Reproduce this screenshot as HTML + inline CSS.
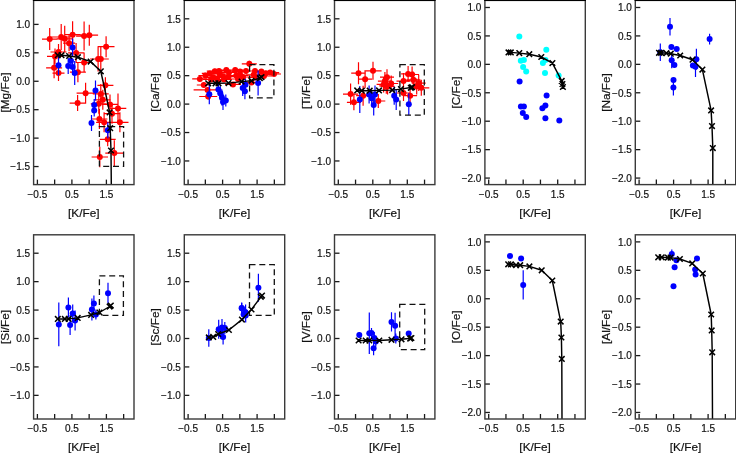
<!DOCTYPE html>
<html><head><meta charset="utf-8"><style>
html,body{margin:0;padding:0;background:#fff;}
svg{display:block;will-change:transform;}
text{font-family:"Liberation Sans",sans-serif;fill:#111;stroke:#111;stroke-width:0.2px;}
.tl{font-size:10.0px;}
.al{font-size:11.8px;}
.ax{stroke:#1a1a1a;stroke-width:1.3;}
.box{fill:none;stroke:#3a3a3a;stroke-width:1.4;}
</style></head><body>
<svg width="736" height="454" viewBox="0 0 736 454">
<g>
<path d="M42.0 39.1H57.4M49.7 28.1V50.1M51.5 37.0H70.9M61.2 24.0V50.0M56.7 38.8H72.7M64.7 25.8V51.8M64.6 34.7H80.6M72.6 21.3V48.1M76.1 36.1H92.1M84.1 21.6V50.6M80.5 35.2H98.1M89.3 24.7V45.7M63.1 43.2H75.1M69.1 35.2V51.2M97.7 46.7H114.5M106.1 36.2V57.2M47.0 56.4H63.0M55.0 48.4V64.4M50.5 52.0H66.5M58.5 44.0V60.0M46.1 67.8H62.1M54.1 57.3V78.3M52.5 73.1H64.5M58.5 65.1V81.1M68.1 52.9H84.1M76.1 42.9V62.9M76.1 62.5H92.1M84.1 52.5V72.5M69.9 72.2H85.9M77.9 62.2V82.2M90.1 59.0H106.1M98.1 46.5V71.5M92.8 59.0H108.8M100.8 46.5V71.5M76.6 93.2H94.6M85.6 82.7V103.7M69.6 103.1H85.6M77.6 95.1V111.1M97.4 85.3H113.4M105.4 77.3V93.3M92.8 93.9H108.8M100.8 83.9V103.9M94.8 99.8H110.8M102.8 89.8V109.8M90.8 103.8H106.8M98.8 93.8V113.8M102.0 104.4H118.0M110.0 94.4V114.4M109.7 108.4H126.3M118.0 93.4V123.4M91.4 119.0H107.4M99.4 109.0V129.0M96.1 122.3H112.1M104.1 112.3V132.3M111.3 122.3H128.5M119.9 112.3V132.3M104.0 113.7H120.0M112.0 103.7V123.7M99.7 139.3H115.7M107.7 132.3V146.3M105.3 153.1H123.3M114.3 140.3V165.9M91.6 157.0H108.0M99.8 146.7V167.3" stroke="#ff0000" stroke-width="1.2" fill="none"/>
<circle cx="49.7" cy="39.1" r="3.0" fill="#ff0000"/>
<circle cx="61.2" cy="37.0" r="3.0" fill="#ff0000"/>
<circle cx="64.7" cy="38.8" r="3.0" fill="#ff0000"/>
<circle cx="72.6" cy="34.7" r="3.0" fill="#ff0000"/>
<circle cx="84.1" cy="36.1" r="3.0" fill="#ff0000"/>
<circle cx="89.3" cy="35.2" r="3.0" fill="#ff0000"/>
<circle cx="69.1" cy="43.2" r="3.0" fill="#ff0000"/>
<circle cx="106.1" cy="46.7" r="3.0" fill="#ff0000"/>
<circle cx="55.0" cy="56.4" r="3.0" fill="#ff0000"/>
<circle cx="58.5" cy="52.0" r="3.0" fill="#ff0000"/>
<circle cx="54.1" cy="67.8" r="3.0" fill="#ff0000"/>
<circle cx="58.5" cy="73.1" r="3.0" fill="#ff0000"/>
<circle cx="76.1" cy="52.9" r="3.0" fill="#ff0000"/>
<circle cx="84.1" cy="62.5" r="3.0" fill="#ff0000"/>
<circle cx="77.9" cy="72.2" r="3.0" fill="#ff0000"/>
<circle cx="98.1" cy="59.0" r="3.0" fill="#ff0000"/>
<circle cx="100.8" cy="59.0" r="3.0" fill="#ff0000"/>
<circle cx="85.6" cy="93.2" r="3.0" fill="#ff0000"/>
<circle cx="77.6" cy="103.1" r="3.0" fill="#ff0000"/>
<circle cx="105.4" cy="85.3" r="3.0" fill="#ff0000"/>
<circle cx="100.8" cy="93.9" r="3.0" fill="#ff0000"/>
<circle cx="102.8" cy="99.8" r="3.0" fill="#ff0000"/>
<circle cx="98.8" cy="103.8" r="3.0" fill="#ff0000"/>
<circle cx="110.0" cy="104.4" r="3.0" fill="#ff0000"/>
<circle cx="118.0" cy="108.4" r="3.0" fill="#ff0000"/>
<circle cx="99.4" cy="119.0" r="3.0" fill="#ff0000"/>
<circle cx="104.1" cy="122.3" r="3.0" fill="#ff0000"/>
<circle cx="119.9" cy="122.3" r="3.0" fill="#ff0000"/>
<circle cx="112.0" cy="113.7" r="3.0" fill="#ff0000"/>
<circle cx="107.7" cy="139.3" r="3.0" fill="#ff0000"/>
<circle cx="114.3" cy="153.1" r="3.0" fill="#ff0000"/>
<circle cx="99.8" cy="157.0" r="3.0" fill="#ff0000"/>
<path d="M72.6 38.6V56.6M58.5 55.2V75.2M68.2 58.1V74.1M70.9 52.8V68.8M72.6 59.0V75.0M74.7 61.1V85.1M95.5 80.6V100.6M94.2 99.1V111.1M94.2 104.4V116.4M91.5 115.0V131.0M107.8 122.3V138.3" stroke="#0000ff" stroke-width="1.2" fill="none"/>
<circle cx="72.6" cy="47.6" r="3.0" fill="#0000ff"/>
<circle cx="58.5" cy="65.2" r="3.0" fill="#0000ff"/>
<circle cx="68.2" cy="66.1" r="3.0" fill="#0000ff"/>
<circle cx="70.9" cy="60.8" r="3.0" fill="#0000ff"/>
<circle cx="72.6" cy="67.0" r="3.0" fill="#0000ff"/>
<circle cx="74.7" cy="73.1" r="3.0" fill="#0000ff"/>
<circle cx="95.5" cy="90.6" r="3.0" fill="#0000ff"/>
<circle cx="94.2" cy="105.1" r="3.0" fill="#0000ff"/>
<circle cx="94.2" cy="110.4" r="3.0" fill="#0000ff"/>
<circle cx="91.5" cy="123.0" r="3.0" fill="#0000ff"/>
<circle cx="107.8" cy="130.3" r="3.0" fill="#0000ff"/>
<rect x="99.4" y="126.6" width="24.2" height="39.8" fill="none" stroke="#111" stroke-width="1.3" stroke-dasharray="6 3.8"/>
<polyline points="57.8,55.2 61.5,55.2 69.1,56.0 77.9,57.2 90.6,61.6 100.8,71.3 104.5,88.0 109.6,112.4 110.2,128.2 111.0,150.5 111.3,184.5" fill="none" stroke="#000" stroke-width="1.45" stroke-linejoin="round"/>
<path d="M55.0 52.4L60.6 58.0M55.0 58.0L60.6 52.4M58.7 52.4L64.3 58.0M58.7 58.0L64.3 52.4M66.3 53.2L71.9 58.8M66.3 58.8L71.9 53.2M75.1 54.4L80.7 60.0M75.1 60.0L80.7 54.4M87.8 58.8L93.4 64.4M87.8 64.4L93.4 58.8M98.0 68.5L103.6 74.1M98.0 74.1L103.6 68.5M106.8 109.6L112.4 115.2M106.8 115.2L112.4 109.6M107.4 125.4L113.0 131.0M107.4 131.0L113.0 125.4M108.2 147.7L113.8 153.3M108.2 153.3L113.8 147.7" stroke="#000" stroke-width="1.5" fill="none"/>
</g>
<line x1="37.40" y1="184.60" x2="37.40" y2="179.60" class="ax"/>
<line x1="54.65" y1="184.60" x2="54.65" y2="179.60" class="ax"/>
<line x1="71.90" y1="184.60" x2="71.90" y2="179.60" class="ax"/>
<line x1="89.15" y1="184.60" x2="89.15" y2="179.60" class="ax"/>
<line x1="106.40" y1="184.60" x2="106.40" y2="179.60" class="ax"/>
<line x1="123.65" y1="184.60" x2="123.65" y2="179.60" class="ax"/>
<text x="37.40" y="198.10" class="tl" text-anchor="middle">−0.5</text>
<text x="71.90" y="198.10" class="tl" text-anchor="middle">0.5</text>
<text x="106.40" y="198.10" class="tl" text-anchor="middle">1.5</text>
<line x1="33.60" y1="24.40" x2="38.60" y2="24.40" class="ax"/>
<text x="30.10" y="28.20" class="tl" text-anchor="end">1.0</text>
<line x1="33.60" y1="52.83" x2="38.60" y2="52.83" class="ax"/>
<text x="30.10" y="56.63" class="tl" text-anchor="end">0.5</text>
<line x1="33.60" y1="81.26" x2="38.60" y2="81.26" class="ax"/>
<text x="30.10" y="85.06" class="tl" text-anchor="end">0.0</text>
<line x1="33.60" y1="109.69" x2="38.60" y2="109.69" class="ax"/>
<text x="30.10" y="113.49" class="tl" text-anchor="end">−0.5</text>
<line x1="33.60" y1="138.12" x2="38.60" y2="138.12" class="ax"/>
<text x="30.10" y="141.92" class="tl" text-anchor="end">−1.0</text>
<line x1="33.60" y1="166.55" x2="38.60" y2="166.55" class="ax"/>
<text x="30.10" y="170.35" class="tl" text-anchor="end">−1.5</text>
<text x="83.80" y="217.20" class="al" text-anchor="middle">[K/Fe]</text>
<text transform="translate(8.60,92.50) rotate(-90)" class="al" text-anchor="middle">[Mg/Fe]</text>
<rect x="33.60" y="0.40" width="100.40" height="184.20" class="box"/>
<line x1="32.90" y1="0.55" x2="134.70" y2="0.55" stroke="#000" stroke-width="1.1"/>
<g>
<path d="M192.2 78.9H207.6M199.9 76.4V81.4M196.8 85.0H210.8M203.8 82.5V87.5M198.4 75.6H212.4M205.4 73.1V78.1M201.8 73.4H217.8M209.8 70.9V75.9M206.8 71.2H222.8M214.8 68.7V73.7M205.1 77.3H221.1M213.1 74.8V79.8M211.7 74.0H227.7M219.7 71.5V76.5M209.5 80.0H225.5M217.5 77.5V82.5M218.3 70.1H234.3M226.3 67.6V72.6M215.0 76.2H231.0M223.0 73.7V78.7M220.5 76.7H236.5M228.5 74.2V79.2M227.2 70.1H243.2M235.2 67.6V72.6M225.0 84.4H241.0M233.0 81.9V86.9M228.3 75.6H244.3M236.3 73.1V78.1M193.6 89.9H221.6M207.6 86.9V92.9M199.2 96.5H217.2M208.2 93.5V99.5M232.5 75.4H248.5M240.5 72.9V77.9M238.0 71.0H254.0M246.0 68.5V73.5M241.8 63.8H256.8M249.3 60.8V66.8M243.5 82.5H259.5M251.5 80.0V85.0M245.7 74.8H261.7M253.7 72.3V77.3M253.4 71.5H269.4M261.4 69.0V74.0M257.8 73.2H273.8M265.8 70.7V75.7M261.2 72.6H279.2M270.2 70.1V75.1M203.0 79.5H219.0M211.0 77.0V82.0M216.0 79.5H232.0M224.0 77.0V82.0M230.0 79.0H246.0M238.0 76.5V81.5M235.0 77.0H251.0M243.0 74.5V79.5M248.0 77.5H264.0M256.0 75.0V80.0M256.0 76.0H272.0M264.0 73.5V78.5M267.0 74.0H281.0M274.0 71.5V76.5M221.0 72.5H237.0M229.0 70.0V75.0M211.0 71.0H227.0M219.0 68.5V73.5M247.0 71.0H263.0M255.0 68.5V73.5M232.0 71.5H248.0M240.0 69.0V74.0" stroke="#ff0000" stroke-width="1.2" fill="none"/>
<circle cx="199.9" cy="78.9" r="3.0" fill="#ff0000"/>
<circle cx="203.8" cy="85.0" r="3.0" fill="#ff0000"/>
<circle cx="205.4" cy="75.6" r="3.0" fill="#ff0000"/>
<circle cx="209.8" cy="73.4" r="3.0" fill="#ff0000"/>
<circle cx="214.8" cy="71.2" r="3.0" fill="#ff0000"/>
<circle cx="213.1" cy="77.3" r="3.0" fill="#ff0000"/>
<circle cx="219.7" cy="74.0" r="3.0" fill="#ff0000"/>
<circle cx="217.5" cy="80.0" r="3.0" fill="#ff0000"/>
<circle cx="226.3" cy="70.1" r="3.0" fill="#ff0000"/>
<circle cx="223.0" cy="76.2" r="3.0" fill="#ff0000"/>
<circle cx="228.5" cy="76.7" r="3.0" fill="#ff0000"/>
<circle cx="235.2" cy="70.1" r="3.0" fill="#ff0000"/>
<circle cx="233.0" cy="84.4" r="3.0" fill="#ff0000"/>
<circle cx="236.3" cy="75.6" r="3.0" fill="#ff0000"/>
<circle cx="207.6" cy="89.9" r="3.0" fill="#ff0000"/>
<circle cx="208.2" cy="96.5" r="3.0" fill="#ff0000"/>
<circle cx="240.5" cy="75.4" r="3.0" fill="#ff0000"/>
<circle cx="246.0" cy="71.0" r="3.0" fill="#ff0000"/>
<circle cx="249.3" cy="63.8" r="3.0" fill="#ff0000"/>
<circle cx="251.5" cy="82.5" r="3.0" fill="#ff0000"/>
<circle cx="253.7" cy="74.8" r="3.0" fill="#ff0000"/>
<circle cx="261.4" cy="71.5" r="3.0" fill="#ff0000"/>
<circle cx="265.8" cy="73.2" r="3.0" fill="#ff0000"/>
<circle cx="270.2" cy="72.6" r="3.0" fill="#ff0000"/>
<circle cx="211.0" cy="79.5" r="3.0" fill="#ff0000"/>
<circle cx="224.0" cy="79.5" r="3.0" fill="#ff0000"/>
<circle cx="238.0" cy="79.0" r="3.0" fill="#ff0000"/>
<circle cx="243.0" cy="77.0" r="3.0" fill="#ff0000"/>
<circle cx="256.0" cy="77.5" r="3.0" fill="#ff0000"/>
<circle cx="264.0" cy="76.0" r="3.0" fill="#ff0000"/>
<circle cx="274.0" cy="74.0" r="3.0" fill="#ff0000"/>
<circle cx="229.0" cy="72.5" r="3.0" fill="#ff0000"/>
<circle cx="219.0" cy="71.0" r="3.0" fill="#ff0000"/>
<circle cx="255.0" cy="71.0" r="3.0" fill="#ff0000"/>
<circle cx="240.0" cy="71.5" r="3.0" fill="#ff0000"/>
<path d="M209.3 84.3V104.3M218.4 83.4V95.4M220.3 86.2V100.2M221.9 89.6V105.6M225.8 94.4V106.4M223.0 94.0V110.0M242.7 80.0V96.0M245.5 78.7V90.7M244.9 83.3V99.3M258.1 70.6V95.6" stroke="#0000ff" stroke-width="1.2" fill="none"/>
<circle cx="209.3" cy="94.3" r="3.0" fill="#0000ff"/>
<circle cx="218.4" cy="89.4" r="3.0" fill="#0000ff"/>
<circle cx="220.3" cy="93.2" r="3.0" fill="#0000ff"/>
<circle cx="221.9" cy="97.6" r="3.0" fill="#0000ff"/>
<circle cx="225.8" cy="100.4" r="3.0" fill="#0000ff"/>
<circle cx="223.0" cy="102.0" r="3.0" fill="#0000ff"/>
<circle cx="242.7" cy="88.0" r="3.0" fill="#0000ff"/>
<circle cx="245.5" cy="84.7" r="3.0" fill="#0000ff"/>
<circle cx="244.9" cy="91.3" r="3.0" fill="#0000ff"/>
<circle cx="258.1" cy="83.1" r="3.0" fill="#0000ff"/>
<rect x="249.6" y="64.6" width="24.3" height="33.2" fill="none" stroke="#111" stroke-width="1.3" stroke-dasharray="6 3.8"/>
<polyline points="208.2,83.3 215.5,83.3 218.5,83.3 228.5,83.1 241.6,81.6 251.5,80.8 261.5,77.4" fill="none" stroke="#000" stroke-width="1.45" stroke-linejoin="round"/>
<path d="M205.4 80.5L211.0 86.1M205.4 86.1L211.0 80.5M212.7 80.5L218.3 86.1M212.7 86.1L218.3 80.5M215.7 80.5L221.3 86.1M215.7 86.1L221.3 80.5M225.7 80.3L231.3 85.9M225.7 85.9L231.3 80.3M238.8 78.8L244.4 84.4M238.8 84.4L244.4 78.8M248.7 78.0L254.3 83.6M248.7 83.6L254.3 78.0M257.0 75.4L262.6 81.0M257.0 81.0L262.6 75.4M258.7 74.4L264.3 80.0M258.7 80.0L264.3 74.4" stroke="#000" stroke-width="1.5" fill="none"/>
</g>
<line x1="188.10" y1="184.60" x2="188.10" y2="179.60" class="ax"/>
<line x1="205.35" y1="184.60" x2="205.35" y2="179.60" class="ax"/>
<line x1="222.60" y1="184.60" x2="222.60" y2="179.60" class="ax"/>
<line x1="239.85" y1="184.60" x2="239.85" y2="179.60" class="ax"/>
<line x1="257.10" y1="184.60" x2="257.10" y2="179.60" class="ax"/>
<line x1="274.35" y1="184.60" x2="274.35" y2="179.60" class="ax"/>
<text x="188.10" y="198.10" class="tl" text-anchor="middle">−0.5</text>
<text x="222.60" y="198.10" class="tl" text-anchor="middle">0.5</text>
<text x="257.10" y="198.10" class="tl" text-anchor="middle">1.5</text>
<line x1="184.30" y1="18.81" x2="189.30" y2="18.81" class="ax"/>
<text x="180.80" y="22.61" class="tl" text-anchor="end">1.5</text>
<line x1="184.30" y1="47.24" x2="189.30" y2="47.24" class="ax"/>
<text x="180.80" y="51.04" class="tl" text-anchor="end">1.0</text>
<line x1="184.30" y1="75.67" x2="189.30" y2="75.67" class="ax"/>
<text x="180.80" y="79.47" class="tl" text-anchor="end">0.5</text>
<line x1="184.30" y1="104.10" x2="189.30" y2="104.10" class="ax"/>
<text x="180.80" y="107.90" class="tl" text-anchor="end">0.0</text>
<line x1="184.30" y1="132.53" x2="189.30" y2="132.53" class="ax"/>
<text x="180.80" y="136.33" class="tl" text-anchor="end">−0.5</text>
<line x1="184.30" y1="160.96" x2="189.30" y2="160.96" class="ax"/>
<text x="180.80" y="164.76" class="tl" text-anchor="end">−1.0</text>
<text x="234.50" y="217.20" class="al" text-anchor="middle">[K/Fe]</text>
<text transform="translate(159.30,92.50) rotate(-90)" class="al" text-anchor="middle">[Ca/Fe]</text>
<rect x="184.30" y="0.40" width="100.40" height="184.20" class="box"/>
<line x1="183.60" y1="0.55" x2="285.40" y2="0.55" stroke="#000" stroke-width="1.1"/>
<g>
<path d="M351.2 73.2H365.8M358.5 62.2V84.2M364.4 70.8H381.6M373.0 61.8V79.8M358.1 79.2H372.1M365.1 70.2V88.2M343.0 94.1H358.2M350.6 83.5V104.7M346.9 102.3H360.9M353.9 94.3V110.3M356.1 95.7H370.1M363.1 85.7V105.7M371.3 101.0H385.3M378.3 94.0V108.0M377.9 81.1H391.9M384.9 72.1V90.1M376.6 84.4H390.6M383.6 76.4V92.4M379.3 85.8H393.3M386.3 77.8V93.8M380.0 77.2H394.0M387.0 69.2V85.2M380.6 86.4H394.6M387.6 78.4V94.4M401.1 73.9H415.1M408.1 65.9V81.9M405.1 74.5H419.1M412.1 66.5V82.5M396.5 81.1H410.5M403.5 73.1V89.1M406.4 79.8H420.4M413.4 71.8V87.8M411.7 83.1H425.7M418.7 75.1V91.1M413.3 87.8H429.3M421.3 79.8V95.8M409.7 86.4H423.7M416.7 78.4V94.4M403.1 95.7H417.1M410.1 87.7V103.7M396.5 93.0H410.5M403.5 85.0V101.0M384.2 83.5H398.2M391.2 75.5V91.5" stroke="#ff0000" stroke-width="1.2" fill="none"/>
<circle cx="358.5" cy="73.2" r="3.0" fill="#ff0000"/>
<circle cx="373.0" cy="70.8" r="3.0" fill="#ff0000"/>
<circle cx="365.1" cy="79.2" r="3.0" fill="#ff0000"/>
<circle cx="350.6" cy="94.1" r="3.0" fill="#ff0000"/>
<circle cx="353.9" cy="102.3" r="3.0" fill="#ff0000"/>
<circle cx="363.1" cy="95.7" r="3.0" fill="#ff0000"/>
<circle cx="378.3" cy="101.0" r="3.0" fill="#ff0000"/>
<circle cx="384.9" cy="81.1" r="3.0" fill="#ff0000"/>
<circle cx="383.6" cy="84.4" r="3.0" fill="#ff0000"/>
<circle cx="386.3" cy="85.8" r="3.0" fill="#ff0000"/>
<circle cx="387.0" cy="77.2" r="3.0" fill="#ff0000"/>
<circle cx="387.6" cy="86.4" r="3.0" fill="#ff0000"/>
<circle cx="408.1" cy="73.9" r="3.0" fill="#ff0000"/>
<circle cx="412.1" cy="74.5" r="3.0" fill="#ff0000"/>
<circle cx="403.5" cy="81.1" r="3.0" fill="#ff0000"/>
<circle cx="413.4" cy="79.8" r="3.0" fill="#ff0000"/>
<circle cx="418.7" cy="83.1" r="3.0" fill="#ff0000"/>
<circle cx="421.3" cy="87.8" r="3.0" fill="#ff0000"/>
<circle cx="416.7" cy="86.4" r="3.0" fill="#ff0000"/>
<circle cx="410.1" cy="95.7" r="3.0" fill="#ff0000"/>
<circle cx="403.5" cy="93.0" r="3.0" fill="#ff0000"/>
<circle cx="391.2" cy="83.5" r="3.0" fill="#ff0000"/>
<path d="M359.8 86.1V113.1M369.1 85.4V103.4M371.7 90.3V106.3M373.7 94.4V115.4M375.0 85.4V103.4M394.2 86.7V104.7M396.2 89.1V110.1M408.8 93.3V115.3" stroke="#0000ff" stroke-width="1.2" fill="none"/>
<circle cx="359.8" cy="99.6" r="3.0" fill="#0000ff"/>
<circle cx="369.1" cy="94.4" r="3.0" fill="#0000ff"/>
<circle cx="371.7" cy="98.3" r="3.0" fill="#0000ff"/>
<circle cx="373.7" cy="104.9" r="3.0" fill="#0000ff"/>
<circle cx="375.0" cy="94.4" r="3.0" fill="#0000ff"/>
<circle cx="394.2" cy="95.7" r="3.0" fill="#0000ff"/>
<circle cx="396.2" cy="99.6" r="3.0" fill="#0000ff"/>
<circle cx="408.8" cy="104.3" r="3.0" fill="#0000ff"/>
<rect x="399.9" y="64.6" width="24.4" height="50.5" fill="none" stroke="#111" stroke-width="1.3" stroke-dasharray="6 3.8"/>
<polyline points="357.2,90.4 361.8,90.7 369.7,90.7 379.0,90.4 392.2,90.1 400.9,89.1 412.1,87.2" fill="none" stroke="#000" stroke-width="1.45" stroke-linejoin="round"/>
<path d="M354.4 87.6L360.0 93.2M354.4 93.2L360.0 87.6M359.0 87.9L364.6 93.5M359.0 93.5L364.6 87.9M366.9 87.9L372.5 93.5M366.9 93.5L372.5 87.9M376.2 87.6L381.8 93.2M376.2 93.2L381.8 87.6M389.4 87.3L395.0 92.9M389.4 92.9L395.0 87.3M398.1 86.3L403.7 91.9M398.1 91.9L403.7 86.3M408.0 85.0L413.6 90.6M408.0 90.6L413.6 85.0M409.3 84.4L414.9 90.0M409.3 90.0L414.9 84.4" stroke="#000" stroke-width="1.5" fill="none"/>
</g>
<line x1="338.30" y1="184.60" x2="338.30" y2="179.60" class="ax"/>
<line x1="355.55" y1="184.60" x2="355.55" y2="179.60" class="ax"/>
<line x1="372.80" y1="184.60" x2="372.80" y2="179.60" class="ax"/>
<line x1="390.05" y1="184.60" x2="390.05" y2="179.60" class="ax"/>
<line x1="407.30" y1="184.60" x2="407.30" y2="179.60" class="ax"/>
<line x1="424.55" y1="184.60" x2="424.55" y2="179.60" class="ax"/>
<text x="338.30" y="198.10" class="tl" text-anchor="middle">−0.5</text>
<text x="372.80" y="198.10" class="tl" text-anchor="middle">0.5</text>
<text x="407.30" y="198.10" class="tl" text-anchor="middle">1.5</text>
<line x1="334.50" y1="18.81" x2="339.50" y2="18.81" class="ax"/>
<text x="331.00" y="22.61" class="tl" text-anchor="end">1.5</text>
<line x1="334.50" y1="47.24" x2="339.50" y2="47.24" class="ax"/>
<text x="331.00" y="51.04" class="tl" text-anchor="end">1.0</text>
<line x1="334.50" y1="75.67" x2="339.50" y2="75.67" class="ax"/>
<text x="331.00" y="79.47" class="tl" text-anchor="end">0.5</text>
<line x1="334.50" y1="104.10" x2="339.50" y2="104.10" class="ax"/>
<text x="331.00" y="107.90" class="tl" text-anchor="end">0.0</text>
<line x1="334.50" y1="132.53" x2="339.50" y2="132.53" class="ax"/>
<text x="331.00" y="136.33" class="tl" text-anchor="end">−0.5</text>
<line x1="334.50" y1="160.96" x2="339.50" y2="160.96" class="ax"/>
<text x="331.00" y="164.76" class="tl" text-anchor="end">−1.0</text>
<text x="384.70" y="217.20" class="al" text-anchor="middle">[K/Fe]</text>
<text transform="translate(309.50,92.50) rotate(-90)" class="al" text-anchor="middle">[Ti/Fe]</text>
<rect x="334.50" y="0.40" width="100.40" height="184.20" class="box"/>
<line x1="333.80" y1="0.55" x2="435.60" y2="0.55" stroke="#000" stroke-width="1.1"/>
<g>
<path d="M519.6 81.6V81.6M546.6 95.5V95.5M520.9 106.4V106.4M523.9 106.4V106.4M522.8 112.9V112.9M526.2 117.0V117.0M542.4 108.3V108.3M545.4 105.5V105.5M545.4 118.2V118.2M559.3 120.5V120.5" stroke="#0000ff" stroke-width="1.2" fill="none"/>
<circle cx="519.6" cy="81.6" r="3.0" fill="#0000ff"/>
<circle cx="546.6" cy="95.5" r="3.0" fill="#0000ff"/>
<circle cx="520.9" cy="106.4" r="3.0" fill="#0000ff"/>
<circle cx="523.9" cy="106.4" r="3.0" fill="#0000ff"/>
<circle cx="522.8" cy="112.9" r="3.0" fill="#0000ff"/>
<circle cx="526.2" cy="117.0" r="3.0" fill="#0000ff"/>
<circle cx="542.4" cy="108.3" r="3.0" fill="#0000ff"/>
<circle cx="545.4" cy="105.5" r="3.0" fill="#0000ff"/>
<circle cx="545.4" cy="118.2" r="3.0" fill="#0000ff"/>
<circle cx="559.3" cy="120.5" r="3.0" fill="#0000ff"/>
<circle cx="519.3" cy="36.5" r="3.0" fill="#00ffff"/>
<circle cx="546.3" cy="49.7" r="3.0" fill="#00ffff"/>
<circle cx="520.8" cy="60.8" r="3.0" fill="#00ffff"/>
<circle cx="523.9" cy="60.1" r="3.0" fill="#00ffff"/>
<circle cx="523.1" cy="67.0" r="3.0" fill="#00ffff"/>
<circle cx="526.2" cy="71.6" r="3.0" fill="#00ffff"/>
<circle cx="542.9" cy="63.1" r="3.0" fill="#00ffff"/>
<circle cx="545.5" cy="60.1" r="3.0" fill="#00ffff"/>
<circle cx="545.0" cy="72.9" r="3.0" fill="#00ffff"/>
<circle cx="558.6" cy="75.5" r="3.0" fill="#00ffff"/>
<polyline points="508.5,52.4 510.8,52.4 519.3,53.1 529.3,54.2 541.3,57.0 552.4,63.1 561.7,80.9 562.4,84.0 562.9,87.0" fill="none" stroke="#000" stroke-width="1.45" stroke-linejoin="round"/>
<path d="M505.7 49.6L511.3 55.2M505.7 55.2L511.3 49.6M508.0 49.6L513.6 55.2M508.0 55.2L513.6 49.6M516.5 50.3L522.1 55.9M516.5 55.9L522.1 50.3M526.5 51.4L532.1 57.0M526.5 57.0L532.1 51.4M538.5 54.2L544.1 59.8M538.5 59.8L544.1 54.2M549.6 60.3L555.2 65.9M549.6 65.9L555.2 60.3M558.9 78.1L564.5 83.7M558.9 83.7L564.5 78.1M559.6 81.2L565.2 86.8M559.6 86.8L565.2 81.2M560.1 84.2L565.7 89.8M560.1 89.8L565.7 84.2" stroke="#000" stroke-width="1.5" fill="none"/>
</g>
<line x1="488.70" y1="184.60" x2="488.70" y2="179.60" class="ax"/>
<line x1="505.95" y1="184.60" x2="505.95" y2="179.60" class="ax"/>
<line x1="523.20" y1="184.60" x2="523.20" y2="179.60" class="ax"/>
<line x1="540.45" y1="184.60" x2="540.45" y2="179.60" class="ax"/>
<line x1="557.70" y1="184.60" x2="557.70" y2="179.60" class="ax"/>
<line x1="574.95" y1="184.60" x2="574.95" y2="179.60" class="ax"/>
<text x="488.70" y="198.10" class="tl" text-anchor="middle">−0.5</text>
<text x="523.20" y="198.10" class="tl" text-anchor="middle">0.5</text>
<text x="557.70" y="198.10" class="tl" text-anchor="middle">1.5</text>
<line x1="484.90" y1="7.49" x2="489.90" y2="7.49" class="ax"/>
<text x="481.40" y="11.29" class="tl" text-anchor="end">1.0</text>
<line x1="484.90" y1="35.92" x2="489.90" y2="35.92" class="ax"/>
<text x="481.40" y="39.72" class="tl" text-anchor="end">0.5</text>
<line x1="484.90" y1="64.35" x2="489.90" y2="64.35" class="ax"/>
<text x="481.40" y="68.15" class="tl" text-anchor="end">0.0</text>
<line x1="484.90" y1="92.78" x2="489.90" y2="92.78" class="ax"/>
<text x="481.40" y="96.58" class="tl" text-anchor="end">−0.5</text>
<line x1="484.90" y1="121.21" x2="489.90" y2="121.21" class="ax"/>
<text x="481.40" y="125.01" class="tl" text-anchor="end">−1.0</text>
<line x1="484.90" y1="149.64" x2="489.90" y2="149.64" class="ax"/>
<text x="481.40" y="153.44" class="tl" text-anchor="end">−1.5</text>
<line x1="484.90" y1="178.07" x2="489.90" y2="178.07" class="ax"/>
<text x="481.40" y="181.87" class="tl" text-anchor="end">−2.0</text>
<text x="535.10" y="217.20" class="al" text-anchor="middle">[K/Fe]</text>
<text transform="translate(459.90,92.50) rotate(-90)" class="al" text-anchor="middle">[C/Fe]</text>
<rect x="484.90" y="0.40" width="100.40" height="184.20" class="box"/>
<line x1="484.20" y1="0.55" x2="586.00" y2="0.55" stroke="#000" stroke-width="1.1"/>
<g>
<path d="M670.0 17.9V35.5M709.6 33.8V44.4M671.4 47.0V47.0M676.7 49.1V49.1M660.3 43.5V61.1M671.7 52.2V68.2M674.4 65.0V65.0M696.4 48.8V69.8M692.9 65.5V65.5M695.5 56.4V77.0M673.5 80.1V80.1M673.4 79.5V95.5" stroke="#0000ff" stroke-width="1.2" fill="none"/>
<circle cx="670.0" cy="26.7" r="3.0" fill="#0000ff"/>
<circle cx="709.6" cy="39.1" r="3.0" fill="#0000ff"/>
<circle cx="671.4" cy="47.0" r="3.0" fill="#0000ff"/>
<circle cx="676.7" cy="49.1" r="3.0" fill="#0000ff"/>
<circle cx="660.3" cy="52.3" r="3.0" fill="#0000ff"/>
<circle cx="671.7" cy="60.2" r="3.0" fill="#0000ff"/>
<circle cx="674.4" cy="65.0" r="3.0" fill="#0000ff"/>
<circle cx="696.4" cy="59.3" r="3.0" fill="#0000ff"/>
<circle cx="692.9" cy="65.5" r="3.0" fill="#0000ff"/>
<circle cx="695.5" cy="66.7" r="3.0" fill="#0000ff"/>
<circle cx="673.5" cy="80.1" r="3.0" fill="#0000ff"/>
<circle cx="673.4" cy="87.5" r="3.0" fill="#0000ff"/>
<polyline points="659.0,52.8 661.1,52.8 666.4,53.2 670.8,53.7 680.2,55.5 692.5,59.7 702.4,69.6 711.1,110.4 712.0,126.1 712.8,148.1 712.8,184.5" fill="none" stroke="#000" stroke-width="1.45" stroke-linejoin="round"/>
<path d="M656.2 50.0L661.8 55.6M656.2 55.6L661.8 50.0M658.3 50.0L663.9 55.6M658.3 55.6L663.9 50.0M663.6 50.4L669.2 56.0M663.6 56.0L669.2 50.4M668.0 50.9L673.6 56.5M668.0 56.5L673.6 50.9M677.4 52.7L683.0 58.3M677.4 58.3L683.0 52.7M689.7 56.9L695.3 62.5M689.7 62.5L695.3 56.9M699.6 66.8L705.2 72.4M699.6 72.4L705.2 66.8M708.3 107.6L713.9 113.2M708.3 113.2L713.9 107.6M709.2 123.3L714.8 128.9M709.2 128.9L714.8 123.3M710.0 145.3L715.6 150.9M710.0 150.9L715.6 145.3" stroke="#000" stroke-width="1.5" fill="none"/>
</g>
<line x1="639.10" y1="184.60" x2="639.10" y2="179.60" class="ax"/>
<line x1="656.35" y1="184.60" x2="656.35" y2="179.60" class="ax"/>
<line x1="673.60" y1="184.60" x2="673.60" y2="179.60" class="ax"/>
<line x1="690.85" y1="184.60" x2="690.85" y2="179.60" class="ax"/>
<line x1="708.10" y1="184.60" x2="708.10" y2="179.60" class="ax"/>
<line x1="725.35" y1="184.60" x2="725.35" y2="179.60" class="ax"/>
<text x="639.10" y="198.10" class="tl" text-anchor="middle">−0.5</text>
<text x="673.60" y="198.10" class="tl" text-anchor="middle">0.5</text>
<text x="708.10" y="198.10" class="tl" text-anchor="middle">1.5</text>
<line x1="635.30" y1="7.49" x2="640.30" y2="7.49" class="ax"/>
<text x="631.80" y="11.29" class="tl" text-anchor="end">1.0</text>
<line x1="635.30" y1="35.92" x2="640.30" y2="35.92" class="ax"/>
<text x="631.80" y="39.72" class="tl" text-anchor="end">0.5</text>
<line x1="635.30" y1="64.35" x2="640.30" y2="64.35" class="ax"/>
<text x="631.80" y="68.15" class="tl" text-anchor="end">0.0</text>
<line x1="635.30" y1="92.78" x2="640.30" y2="92.78" class="ax"/>
<text x="631.80" y="96.58" class="tl" text-anchor="end">−0.5</text>
<line x1="635.30" y1="121.21" x2="640.30" y2="121.21" class="ax"/>
<text x="631.80" y="125.01" class="tl" text-anchor="end">−1.0</text>
<line x1="635.30" y1="149.64" x2="640.30" y2="149.64" class="ax"/>
<text x="631.80" y="153.44" class="tl" text-anchor="end">−1.5</text>
<line x1="635.30" y1="178.07" x2="640.30" y2="178.07" class="ax"/>
<text x="631.80" y="181.87" class="tl" text-anchor="end">−2.0</text>
<text x="685.50" y="217.20" class="al" text-anchor="middle">[K/Fe]</text>
<text transform="translate(610.30,92.50) rotate(-90)" class="al" text-anchor="middle">[Na/Fe]</text>
<rect x="635.30" y="0.40" width="100.40" height="184.20" class="box"/>
<line x1="634.60" y1="0.55" x2="736.40" y2="0.55" stroke="#000" stroke-width="1.1"/>
<g>
<path d="M58.8 302.6V346.2M68.4 297.6V317.6M72.7 304.5V322.5M70.1 315.0V335.0M75.1 310.5V330.5M93.9 295.6V311.6M91.9 298.6V320.6M95.9 309.5V319.5M108.0 282.8V303.8" stroke="#0000ff" stroke-width="1.2" fill="none"/>
<circle cx="58.8" cy="324.4" r="3.0" fill="#0000ff"/>
<circle cx="68.4" cy="307.6" r="3.0" fill="#0000ff"/>
<circle cx="72.7" cy="313.5" r="3.0" fill="#0000ff"/>
<circle cx="70.1" cy="325.0" r="3.0" fill="#0000ff"/>
<circle cx="75.1" cy="320.5" r="3.0" fill="#0000ff"/>
<circle cx="93.9" cy="303.6" r="3.0" fill="#0000ff"/>
<circle cx="91.9" cy="309.6" r="3.0" fill="#0000ff"/>
<circle cx="95.9" cy="314.5" r="3.0" fill="#0000ff"/>
<circle cx="108.0" cy="293.3" r="3.0" fill="#0000ff"/>
<rect x="99.4" y="275.9" width="24.0" height="39.5" fill="none" stroke="#111" stroke-width="1.3" stroke-dasharray="6 3.8"/>
<polyline points="57.8,318.9 64.8,318.9 68.7,318.9 77.7,317.9 91.1,314.9 99.5,312.5 110.4,306.0" fill="none" stroke="#000" stroke-width="1.45" stroke-linejoin="round"/>
<path d="M55.0 316.1L60.6 321.7M55.0 321.7L60.6 316.1M62.0 316.1L67.6 321.7M62.0 321.7L67.6 316.1M65.9 316.1L71.5 321.7M65.9 321.7L71.5 316.1M74.9 315.1L80.5 320.7M74.9 320.7L80.5 315.1M88.3 312.1L93.9 317.7M88.3 317.7L93.9 312.1M96.7 309.7L102.3 315.3M96.7 315.3L102.3 309.7M106.8 303.8L112.4 309.4M106.8 309.4L112.4 303.8M108.0 302.8L113.6 308.4M108.0 308.4L113.6 302.8" stroke="#000" stroke-width="1.5" fill="none"/>
</g>
<line x1="37.40" y1="419.00" x2="37.40" y2="414.00" class="ax"/>
<line x1="54.65" y1="419.00" x2="54.65" y2="414.00" class="ax"/>
<line x1="71.90" y1="419.00" x2="71.90" y2="414.00" class="ax"/>
<line x1="89.15" y1="419.00" x2="89.15" y2="414.00" class="ax"/>
<line x1="106.40" y1="419.00" x2="106.40" y2="414.00" class="ax"/>
<line x1="123.65" y1="419.00" x2="123.65" y2="414.00" class="ax"/>
<text x="37.40" y="431.90" class="tl" text-anchor="middle">−0.5</text>
<text x="71.90" y="431.90" class="tl" text-anchor="middle">0.5</text>
<text x="106.40" y="431.90" class="tl" text-anchor="middle">1.5</text>
<line x1="33.60" y1="253.21" x2="38.60" y2="253.21" class="ax"/>
<text x="30.10" y="257.01" class="tl" text-anchor="end">1.5</text>
<line x1="33.60" y1="281.64" x2="38.60" y2="281.64" class="ax"/>
<text x="30.10" y="285.44" class="tl" text-anchor="end">1.0</text>
<line x1="33.60" y1="310.07" x2="38.60" y2="310.07" class="ax"/>
<text x="30.10" y="313.87" class="tl" text-anchor="end">0.5</text>
<line x1="33.60" y1="338.50" x2="38.60" y2="338.50" class="ax"/>
<text x="30.10" y="342.30" class="tl" text-anchor="end">0.0</text>
<line x1="33.60" y1="366.93" x2="38.60" y2="366.93" class="ax"/>
<text x="30.10" y="370.73" class="tl" text-anchor="end">−0.5</text>
<line x1="33.60" y1="395.36" x2="38.60" y2="395.36" class="ax"/>
<text x="30.10" y="399.16" class="tl" text-anchor="end">−1.0</text>
<text x="83.80" y="450.70" class="al" text-anchor="middle">[K/Fe]</text>
<text transform="translate(8.60,326.90) rotate(-90)" class="al" text-anchor="middle">[Si/Fe]</text>
<rect x="33.60" y="234.80" width="100.40" height="184.20" class="box"/>
<g>
<path d="M258.4 273.7V301.7M241.6 302.6V313.6M245.6 304.5V320.5M243.6 309.5V319.5M208.8 329.2V346.8M218.7 319.7V338.7M222.0 319.0V336.0M224.8 322.1V334.1M220.9 329.1V339.1M223.1 329.4V344.4M241.9 302.8V313.8M245.2 307.1V317.1M245.7 308.4V322.4" stroke="#0000ff" stroke-width="1.2" fill="none"/>
<circle cx="258.4" cy="287.7" r="3.0" fill="#0000ff"/>
<circle cx="241.6" cy="308.1" r="3.0" fill="#0000ff"/>
<circle cx="245.6" cy="312.5" r="3.0" fill="#0000ff"/>
<circle cx="243.6" cy="314.5" r="3.0" fill="#0000ff"/>
<circle cx="208.8" cy="338.0" r="3.0" fill="#0000ff"/>
<circle cx="218.7" cy="329.2" r="3.0" fill="#0000ff"/>
<circle cx="222.0" cy="327.5" r="3.0" fill="#0000ff"/>
<circle cx="224.8" cy="328.1" r="3.0" fill="#0000ff"/>
<circle cx="220.9" cy="334.1" r="3.0" fill="#0000ff"/>
<circle cx="223.1" cy="336.9" r="3.0" fill="#0000ff"/>
<circle cx="241.9" cy="308.3" r="3.0" fill="#0000ff"/>
<circle cx="245.2" cy="312.1" r="3.0" fill="#0000ff"/>
<circle cx="245.7" cy="315.4" r="3.0" fill="#0000ff"/>
<rect x="249.5" y="264.6" width="24.8" height="50.8" fill="none" stroke="#111" stroke-width="1.3" stroke-dasharray="6 3.8"/>
<polyline points="208.8,337.4 213.2,336.9 218.2,334.1 228.9,330.0 241.9,319.6 251.5,309.5 261.4,296.2" fill="none" stroke="#000" stroke-width="1.45" stroke-linejoin="round"/>
<path d="M206.0 334.6L211.6 340.2M206.0 340.2L211.6 334.6M210.4 334.1L216.0 339.7M210.4 339.7L216.0 334.1M215.4 331.3L221.0 336.9M215.4 336.9L221.0 331.3M226.1 327.2L231.7 332.8M226.1 332.8L231.7 327.2M239.1 316.8L244.7 322.4M239.1 322.4L244.7 316.8M248.7 306.7L254.3 312.3M248.7 312.3L254.3 306.7M258.0 294.0L263.6 299.6M258.0 299.6L263.6 294.0M259.2 292.8L264.8 298.4M259.2 298.4L264.8 292.8" stroke="#000" stroke-width="1.5" fill="none"/>
</g>
<line x1="188.10" y1="419.00" x2="188.10" y2="414.00" class="ax"/>
<line x1="205.35" y1="419.00" x2="205.35" y2="414.00" class="ax"/>
<line x1="222.60" y1="419.00" x2="222.60" y2="414.00" class="ax"/>
<line x1="239.85" y1="419.00" x2="239.85" y2="414.00" class="ax"/>
<line x1="257.10" y1="419.00" x2="257.10" y2="414.00" class="ax"/>
<line x1="274.35" y1="419.00" x2="274.35" y2="414.00" class="ax"/>
<text x="188.10" y="431.90" class="tl" text-anchor="middle">−0.5</text>
<text x="222.60" y="431.90" class="tl" text-anchor="middle">0.5</text>
<text x="257.10" y="431.90" class="tl" text-anchor="middle">1.5</text>
<line x1="184.30" y1="253.21" x2="189.30" y2="253.21" class="ax"/>
<text x="180.80" y="257.01" class="tl" text-anchor="end">1.5</text>
<line x1="184.30" y1="281.64" x2="189.30" y2="281.64" class="ax"/>
<text x="180.80" y="285.44" class="tl" text-anchor="end">1.0</text>
<line x1="184.30" y1="310.07" x2="189.30" y2="310.07" class="ax"/>
<text x="180.80" y="313.87" class="tl" text-anchor="end">0.5</text>
<line x1="184.30" y1="338.50" x2="189.30" y2="338.50" class="ax"/>
<text x="180.80" y="342.30" class="tl" text-anchor="end">0.0</text>
<line x1="184.30" y1="366.93" x2="189.30" y2="366.93" class="ax"/>
<text x="180.80" y="370.73" class="tl" text-anchor="end">−0.5</text>
<line x1="184.30" y1="395.36" x2="189.30" y2="395.36" class="ax"/>
<text x="180.80" y="399.16" class="tl" text-anchor="end">−1.0</text>
<text x="234.50" y="450.70" class="al" text-anchor="middle">[K/Fe]</text>
<text transform="translate(159.30,326.90) rotate(-90)" class="al" text-anchor="middle">[Sc/Fe]</text>
<rect x="184.30" y="234.80" width="100.40" height="184.20" class="box"/>
<g>
<path d="M359.3 332.1V338.1M369.3 312.5V354.1M371.5 327.9V337.9M374.3 331.9V343.9M375.8 336.5V346.5M373.6 341.2V355.2M391.5 312.2V331.6M395.1 312.8V338.8M395.8 333.6V343.6M408.7 333.6V333.6" stroke="#0000ff" stroke-width="1.2" fill="none"/>
<circle cx="359.3" cy="335.1" r="3.0" fill="#0000ff"/>
<circle cx="369.3" cy="333.3" r="3.0" fill="#0000ff"/>
<circle cx="371.5" cy="332.9" r="3.0" fill="#0000ff"/>
<circle cx="374.3" cy="337.9" r="3.0" fill="#0000ff"/>
<circle cx="375.8" cy="341.5" r="3.0" fill="#0000ff"/>
<circle cx="373.6" cy="348.2" r="3.0" fill="#0000ff"/>
<circle cx="391.5" cy="321.9" r="3.0" fill="#0000ff"/>
<circle cx="395.1" cy="325.8" r="3.0" fill="#0000ff"/>
<circle cx="395.8" cy="338.6" r="3.0" fill="#0000ff"/>
<circle cx="408.7" cy="333.6" r="3.0" fill="#0000ff"/>
<rect x="399.7" y="304.4" width="25.0" height="45.3" fill="none" stroke="#111" stroke-width="1.3" stroke-dasharray="6 3.8"/>
<polyline points="358.6,340.5 365.7,340.5 369.3,340.5 379.3,340.5 391.5,339.8 401.5,339.3 410.8,338.3" fill="none" stroke="#000" stroke-width="1.45" stroke-linejoin="round"/>
<path d="M355.8 337.7L361.4 343.3M355.8 343.3L361.4 337.7M362.9 337.7L368.5 343.3M362.9 343.3L368.5 337.7M366.5 337.7L372.1 343.3M366.5 343.3L372.1 337.7M376.5 337.7L382.1 343.3M376.5 343.3L382.1 337.7M388.7 337.0L394.3 342.6M388.7 342.6L394.3 337.0M398.7 336.5L404.3 342.1M398.7 342.1L404.3 336.5M407.4 335.8L413.0 341.4M407.4 341.4L413.0 335.8M408.6 335.2L414.2 340.8M408.6 340.8L414.2 335.2" stroke="#000" stroke-width="1.5" fill="none"/>
</g>
<line x1="338.30" y1="419.00" x2="338.30" y2="414.00" class="ax"/>
<line x1="355.55" y1="419.00" x2="355.55" y2="414.00" class="ax"/>
<line x1="372.80" y1="419.00" x2="372.80" y2="414.00" class="ax"/>
<line x1="390.05" y1="419.00" x2="390.05" y2="414.00" class="ax"/>
<line x1="407.30" y1="419.00" x2="407.30" y2="414.00" class="ax"/>
<line x1="424.55" y1="419.00" x2="424.55" y2="414.00" class="ax"/>
<text x="338.30" y="431.90" class="tl" text-anchor="middle">−0.5</text>
<text x="372.80" y="431.90" class="tl" text-anchor="middle">0.5</text>
<text x="407.30" y="431.90" class="tl" text-anchor="middle">1.5</text>
<line x1="334.50" y1="253.21" x2="339.50" y2="253.21" class="ax"/>
<text x="331.00" y="257.01" class="tl" text-anchor="end">1.5</text>
<line x1="334.50" y1="281.64" x2="339.50" y2="281.64" class="ax"/>
<text x="331.00" y="285.44" class="tl" text-anchor="end">1.0</text>
<line x1="334.50" y1="310.07" x2="339.50" y2="310.07" class="ax"/>
<text x="331.00" y="313.87" class="tl" text-anchor="end">0.5</text>
<line x1="334.50" y1="338.50" x2="339.50" y2="338.50" class="ax"/>
<text x="331.00" y="342.30" class="tl" text-anchor="end">0.0</text>
<line x1="334.50" y1="366.93" x2="339.50" y2="366.93" class="ax"/>
<text x="331.00" y="370.73" class="tl" text-anchor="end">−0.5</text>
<line x1="334.50" y1="395.36" x2="339.50" y2="395.36" class="ax"/>
<text x="331.00" y="399.16" class="tl" text-anchor="end">−1.0</text>
<text x="384.70" y="450.70" class="al" text-anchor="middle">[K/Fe]</text>
<text transform="translate(309.50,326.90) rotate(-90)" class="al" text-anchor="middle">[V/Fe]</text>
<rect x="334.50" y="234.80" width="100.40" height="184.20" class="box"/>
<g>
<path d="M510.0 255.9V255.9M521.1 258.5V258.5M523.2 270.3V299.5" stroke="#0000ff" stroke-width="1.2" fill="none"/>
<circle cx="510.0" cy="255.9" r="3.0" fill="#0000ff"/>
<circle cx="521.1" cy="258.5" r="3.0" fill="#0000ff"/>
<circle cx="523.2" cy="284.9" r="3.0" fill="#0000ff"/>
<polyline points="508.2,264.3 510.9,264.3 516.1,265.2 520.2,265.2 529.4,266.4 541.7,270.3 552.3,280.5 560.7,321.6 561.4,337.5 561.8,358.9 562.0,419.0" fill="none" stroke="#000" stroke-width="1.45" stroke-linejoin="round"/>
<path d="M505.4 261.5L511.0 267.1M505.4 267.1L511.0 261.5M508.1 261.5L513.7 267.1M508.1 267.1L513.7 261.5M513.3 262.4L518.9 268.0M513.3 268.0L518.9 262.4M517.4 262.4L523.0 268.0M517.4 268.0L523.0 262.4M526.6 263.6L532.2 269.2M526.6 269.2L532.2 263.6M538.9 267.5L544.5 273.1M538.9 273.1L544.5 267.5M549.5 277.7L555.1 283.3M549.5 283.3L555.1 277.7M557.9 318.8L563.5 324.4M557.9 324.4L563.5 318.8M558.6 334.7L564.2 340.3M558.6 340.3L564.2 334.7M559.0 356.1L564.6 361.7M559.0 361.7L564.6 356.1" stroke="#000" stroke-width="1.5" fill="none"/>
</g>
<line x1="488.70" y1="419.00" x2="488.70" y2="414.00" class="ax"/>
<line x1="505.95" y1="419.00" x2="505.95" y2="414.00" class="ax"/>
<line x1="523.20" y1="419.00" x2="523.20" y2="414.00" class="ax"/>
<line x1="540.45" y1="419.00" x2="540.45" y2="414.00" class="ax"/>
<line x1="557.70" y1="419.00" x2="557.70" y2="414.00" class="ax"/>
<line x1="574.95" y1="419.00" x2="574.95" y2="414.00" class="ax"/>
<text x="488.70" y="431.90" class="tl" text-anchor="middle">−0.5</text>
<text x="523.20" y="431.90" class="tl" text-anchor="middle">0.5</text>
<text x="557.70" y="431.90" class="tl" text-anchor="middle">1.5</text>
<line x1="484.90" y1="241.89" x2="489.90" y2="241.89" class="ax"/>
<text x="481.40" y="245.69" class="tl" text-anchor="end">1.0</text>
<line x1="484.90" y1="270.32" x2="489.90" y2="270.32" class="ax"/>
<text x="481.40" y="274.12" class="tl" text-anchor="end">0.5</text>
<line x1="484.90" y1="298.75" x2="489.90" y2="298.75" class="ax"/>
<text x="481.40" y="302.55" class="tl" text-anchor="end">0.0</text>
<line x1="484.90" y1="327.18" x2="489.90" y2="327.18" class="ax"/>
<text x="481.40" y="330.98" class="tl" text-anchor="end">−0.5</text>
<line x1="484.90" y1="355.61" x2="489.90" y2="355.61" class="ax"/>
<text x="481.40" y="359.41" class="tl" text-anchor="end">−1.0</text>
<line x1="484.90" y1="384.04" x2="489.90" y2="384.04" class="ax"/>
<text x="481.40" y="387.84" class="tl" text-anchor="end">−1.5</text>
<line x1="484.90" y1="412.47" x2="489.90" y2="412.47" class="ax"/>
<text x="481.40" y="416.27" class="tl" text-anchor="end">−2.0</text>
<text x="535.10" y="450.70" class="al" text-anchor="middle">[K/Fe]</text>
<text transform="translate(459.90,326.90) rotate(-90)" class="al" text-anchor="middle">[O/Fe]</text>
<rect x="484.90" y="234.80" width="100.40" height="184.20" class="box"/>
<g>
<path d="M671.8 249.6V258.6M676.4 260.3V260.3M674.6 267.3V267.3M673.5 286.2V286.2M697.0 258.5V258.5M695.2 269.6V269.6M695.6 274.4V274.4" stroke="#0000ff" stroke-width="1.2" fill="none"/>
<circle cx="671.8" cy="254.1" r="3.0" fill="#0000ff"/>
<circle cx="676.4" cy="260.3" r="3.0" fill="#0000ff"/>
<circle cx="674.6" cy="267.3" r="3.0" fill="#0000ff"/>
<circle cx="673.5" cy="286.2" r="3.0" fill="#0000ff"/>
<circle cx="697.0" cy="258.5" r="3.0" fill="#0000ff"/>
<circle cx="695.2" cy="269.6" r="3.0" fill="#0000ff"/>
<circle cx="695.6" cy="274.4" r="3.0" fill="#0000ff"/>
<polyline points="658.2,257.3 661.7,257.3 667.9,257.6 670.6,257.6 679.9,259.0 692.2,263.4 702.8,273.5 711.2,314.5 711.7,330.4 712.2,352.3 712.5,419.0" fill="none" stroke="#000" stroke-width="1.45" stroke-linejoin="round"/>
<path d="M655.4 254.5L661.0 260.1M655.4 260.1L661.0 254.5M658.9 254.5L664.5 260.1M658.9 260.1L664.5 254.5M665.1 254.8L670.7 260.4M665.1 260.4L670.7 254.8M667.8 254.8L673.4 260.4M667.8 260.4L673.4 254.8M677.1 256.2L682.7 261.8M677.1 261.8L682.7 256.2M689.4 260.6L695.0 266.2M689.4 266.2L695.0 260.6M700.0 270.7L705.6 276.3M700.0 276.3L705.6 270.7M708.4 311.7L714.0 317.3M708.4 317.3L714.0 311.7M708.9 327.6L714.5 333.2M708.9 333.2L714.5 327.6M709.4 349.5L715.0 355.1M709.4 355.1L715.0 349.5" stroke="#000" stroke-width="1.5" fill="none"/>
</g>
<line x1="639.10" y1="419.00" x2="639.10" y2="414.00" class="ax"/>
<line x1="656.35" y1="419.00" x2="656.35" y2="414.00" class="ax"/>
<line x1="673.60" y1="419.00" x2="673.60" y2="414.00" class="ax"/>
<line x1="690.85" y1="419.00" x2="690.85" y2="414.00" class="ax"/>
<line x1="708.10" y1="419.00" x2="708.10" y2="414.00" class="ax"/>
<line x1="725.35" y1="419.00" x2="725.35" y2="414.00" class="ax"/>
<text x="639.10" y="431.90" class="tl" text-anchor="middle">−0.5</text>
<text x="673.60" y="431.90" class="tl" text-anchor="middle">0.5</text>
<text x="708.10" y="431.90" class="tl" text-anchor="middle">1.5</text>
<line x1="635.30" y1="241.89" x2="640.30" y2="241.89" class="ax"/>
<text x="631.80" y="245.69" class="tl" text-anchor="end">1.0</text>
<line x1="635.30" y1="270.32" x2="640.30" y2="270.32" class="ax"/>
<text x="631.80" y="274.12" class="tl" text-anchor="end">0.5</text>
<line x1="635.30" y1="298.75" x2="640.30" y2="298.75" class="ax"/>
<text x="631.80" y="302.55" class="tl" text-anchor="end">0.0</text>
<line x1="635.30" y1="327.18" x2="640.30" y2="327.18" class="ax"/>
<text x="631.80" y="330.98" class="tl" text-anchor="end">−0.5</text>
<line x1="635.30" y1="355.61" x2="640.30" y2="355.61" class="ax"/>
<text x="631.80" y="359.41" class="tl" text-anchor="end">−1.0</text>
<line x1="635.30" y1="384.04" x2="640.30" y2="384.04" class="ax"/>
<text x="631.80" y="387.84" class="tl" text-anchor="end">−1.5</text>
<line x1="635.30" y1="412.47" x2="640.30" y2="412.47" class="ax"/>
<text x="631.80" y="416.27" class="tl" text-anchor="end">−2.0</text>
<text x="685.50" y="450.70" class="al" text-anchor="middle">[K/Fe]</text>
<text transform="translate(610.30,326.90) rotate(-90)" class="al" text-anchor="middle">[Al/Fe]</text>
<rect x="635.30" y="234.80" width="100.40" height="184.20" class="box"/>
</svg></body></html>
